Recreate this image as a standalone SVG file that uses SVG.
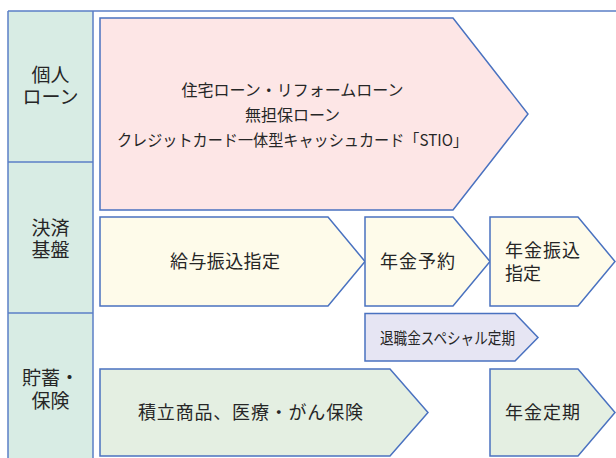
<svg xmlns="http://www.w3.org/2000/svg" width="616" height="458" viewBox="0 0 616 458">
<style>
.grid{stroke:#5b7fc6;stroke-width:1.5;fill:none}
.shape{stroke:#4a72c0;stroke-width:1.5;stroke-linejoin:miter}
text{font-family:"Noto Sans CJK JP","Noto Sans",sans-serif;fill:#262626}
.lbl{font-size:19px;text-anchor:middle}
.t16{font-size:16px}
.t18{font-size:18px}
</style>
<rect x="0" y="0" width="616" height="458" fill="#ffffff"/>
<g id="table">
<rect x="8" y="11" width="85" height="460" fill="#d8ece4"/>
<path class="grid" d="M8,11 H616 M8,11 V458 M93,11 V458 M8,162 H93 M8,313 H93"/>
</g>
<g id="row-labels">
<g id="label-loan"><text class="lbl" x="50.5" y="82">個人<tspan x="50.5" dy="22">ローン</tspan></text></g>
<g id="label-settlement"><text class="lbl" x="50.5" y="235">決済<tspan x="50.5" dy="22">基盤</tspan></text></g>
<g id="label-savings"><text class="lbl" x="50.5" y="385">貯蓄・<tspan x="50.5" dy="23">保険</tspan></text></g>
</g>
<g id="node-loans">
<polygon class="shape" fill="#fde6e6" points="100,18 453,18 528,114 453,210 100,210"/>
<text class="t16" text-anchor="middle"><tspan x="292.5" y="96">住宅ローン・リフォームローン</tspan><tspan x="292.5" y="121">無担保ローン</tspan><tspan x="292.5" y="145.5" textLength="351" lengthAdjust="spacingAndGlyphs">クレジットカード一体型キャッシュカード「STIO」</tspan></text>
</g>
<g id="node-salary">
<polygon class="shape" fill="#fefbea" points="100,217 328,217 365,261.5 328,306 100,306"/>
<text class="t18" x="170" y="267.5" textLength="110" lengthAdjust="spacing">給与振込指定</text>
</g>
<g id="node-pension-reserve">
<polygon class="shape" fill="#fefbea" points="365,217 453,217 490,261.5 453,306 365,306"/>
<text class="t18" x="380" y="267.5" textLength="75" lengthAdjust="spacing">年金予約</text>
</g>
<g id="node-pension-transfer">
<polygon class="shape" fill="#fefbea" points="490,217 578,217 615,261.5 578,306 490,306"/>
<text class="t18"><tspan x="505" y="256.5" textLength="75" lengthAdjust="spacing">年金振込</tspan><tspan x="505" y="279.5">指定</tspan></text>
</g>
<g id="node-retirement">
<polygon class="shape" fill="#e6e5f3" points="365,313.5 515,313.5 538,337.5 515,361 365,361"/>
<text class="t16" x="380" y="343.5" textLength="135" lengthAdjust="spacingAndGlyphs">退職金スペシャル定期</text>
</g>
<g id="node-savings">
<polygon class="shape" fill="#e4efe2" points="100,369 390,369 428,412.5 390,456 100,456"/>
<text class="t18" x="138" y="418.5" textLength="225" lengthAdjust="spacing">積立商品、医療・がん保険</text>
</g>
<g id="node-pension-deposit">
<polygon class="shape" fill="#e4efe2" points="490,369 578,369 615,412.5 578,456 490,456"/>
<text class="t18" x="505" y="418.5" textLength="75" lengthAdjust="spacing">年金定期</text>
</g>
<g id="connectors"></g>
</svg>
